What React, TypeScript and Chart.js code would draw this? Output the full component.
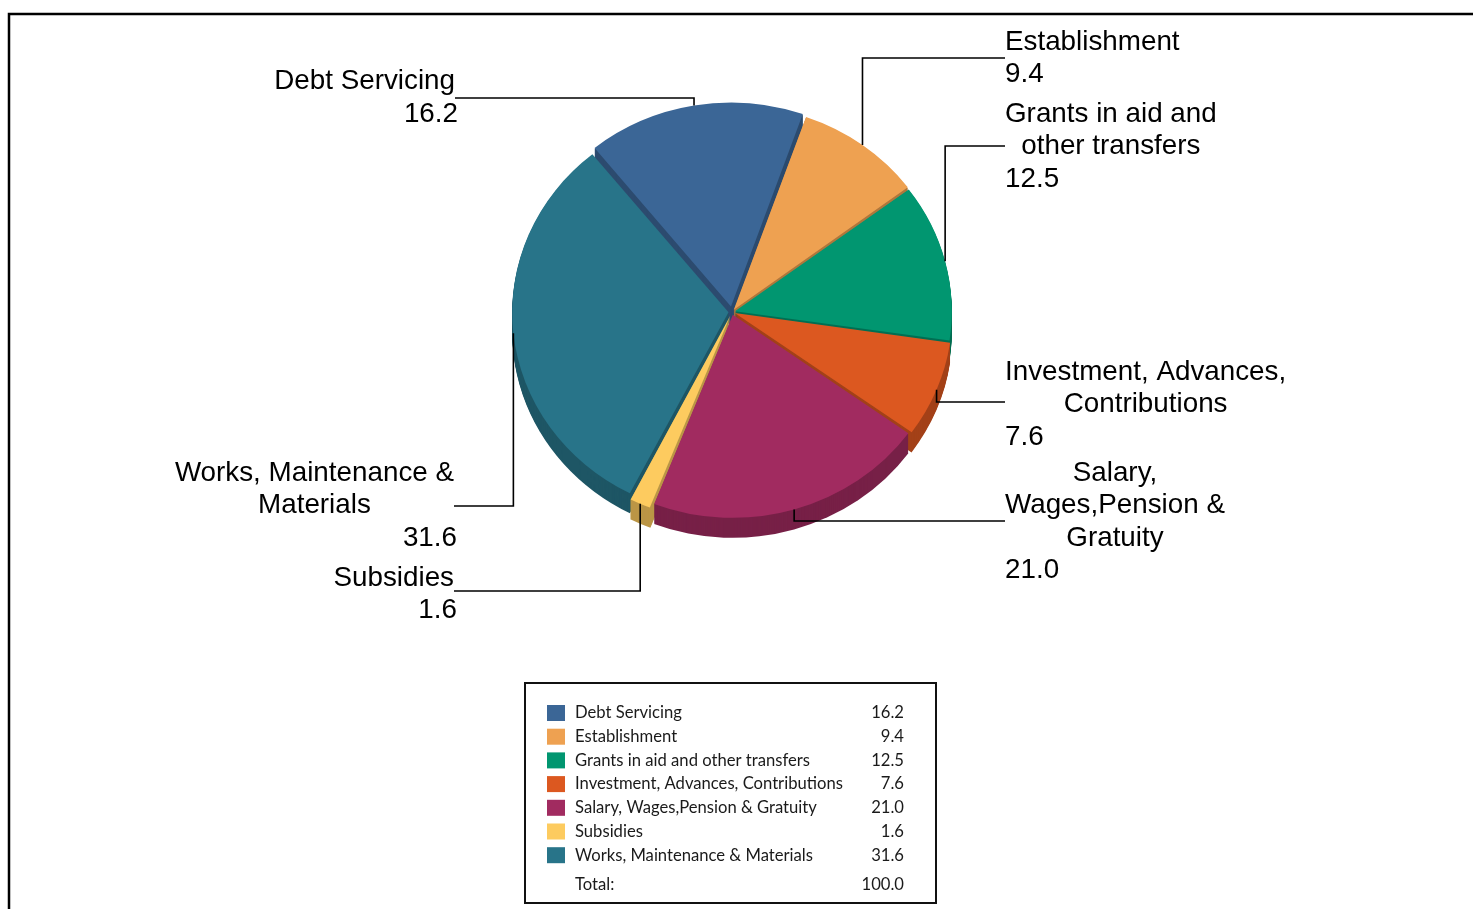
import React, { useEffect, useRef } from "react";
import { Chart, registerables } from "chart.js";

Chart.register(...registerables);

// ---------- data ----------
const categories = [
  "Debt Servicing",
  "Establishment",
  "Grants in aid and other transfers",
  "Investment, Advances, Contributions",
  "Salary, Wages,Pension & Gratuity",
  "Subsidies",
  "Works, Maintenance & Materials",
];
const values = [16.2, 9.4, 12.5, 7.6, 21.0, 1.6, 31.6];
const totalValue = 100.0;
const labelLines = [
  ["Debt Servicing"],
  ["Establishment"],
  ["Grants in aid and", "other transfers"],
  ["Investment, Advances,", "Contributions"],
  ["Salary,", "Wages,Pension &", "Gratuity"],
  ["Subsidies"],
  ["Works, Maintenance &", "Materials"],
];

// ---------- style ----------
const colors = ["#3B6696", "#EEA151", "#019670", "#DC5820", "#A12B60", "#FDCB5F", "#287489"];
const offsets = [24, 12, 12, 12, 12, 16, 14];
const SY = 0.94;
const DEPTH = 20;
const LABEL_FONT = '27.8px "Liberation Sans", Arial, sans-serif';
const LINE_H = 32.6;

const labelLayout = [
  { side: "left", tx: 458, y0: 81.5, elbowY: 98 },
  { side: "right", tx: 1005, y0: 42, elbowY: 58 },
  { side: "right", tx: 1005, y0: 114, elbowY: 146 },
  { side: "right", tx: 1005, y0: 372, elbowY: 402 },
  { side: "right", tx: 1005, y0: 473, elbowY: 521 },
  { side: "left", tx: 457, y0: 578, elbowY: 591 },
  { side: "left", tx: 457, y0: 473, elbowY: 506 },
];

const legendBox = { x: 525, y: 683, w: 411, h: 220 };

function shade(hex: string, f: number) {
  const n = parseInt(hex.slice(1), 16);
  const r = Math.round(((n >> 16) & 255) * f);
  const g = Math.round(((n >> 8) & 255) * f);
  const b = Math.round((n & 255) * f);
  return `rgb(${r},${g},${b})`;
}
const sideColors = colors.map((c) => shade(c, 0.74));

function arcGeom(arc: any) {
  const p = arc.getProps(["x", "y", "startAngle", "endAngle", "outerRadius", "circumference"], true);
  const off = (arc.options.offset || 0) / 4;
  const mid = (p.startAngle + p.endAngle) / 2;
  const fix = 1 - Math.sin(Math.min(Math.PI, p.circumference || 0));
  return {
    cx: p.x,
    cy: p.y,
    x: p.x + Math.cos(mid) * off,
    y: p.y + Math.sin(mid) * off,
    r: p.outerRadius + off * fix,
    start: p.startAngle,
    end: p.endAngle,
    mid,
  };
}

const pie3d = {
  id: "pie3d",
  beforeDatasetsDraw(chart: any) {
    const meta = chart.getDatasetMeta(0);
    const ctx = chart.ctx;
    const g0 = arcGeom(meta.data[0]);
    ctx.save();
    ctx.translate(g0.cx, g0.cy);
    ctx.scale(1, SY);
    ctx.translate(-g0.cx, -g0.cy);
    for (let d = DEPTH; d >= 1; d--) {
      meta.data.forEach((arc: any, i: number) => {
        const g = arcGeom(arc);
        const yy = g.y + d / SY;
        ctx.beginPath();
        ctx.moveTo(g.x, yy);
        ctx.arc(g.x, yy, g.r, g.start, g.end);
        ctx.closePath();
        ctx.fillStyle = sideColors[i];
        ctx.fill();
      });
    }
  },
  afterDatasetsDraw(chart: any) {
    chart.ctx.restore();
  },
  afterDraw(chart: any) {
    const ctx = chart.ctx;
    const meta = chart.getDatasetMeta(0);

    // frame
    ctx.save();
    ctx.strokeStyle = "#000";
    ctx.lineWidth = 2.5;
    ctx.beginPath();
    ctx.moveTo(9, chart.height);
    ctx.lineTo(9, 14);
    ctx.lineTo(chart.width, 14);
    ctx.stroke();
    ctx.restore();

    // data labels with leader lines
    ctx.save();
    ctx.font = LABEL_FONT;
    ctx.fillStyle = "#000";
    ctx.textBaseline = "middle";
    meta.data.forEach((arc: any, i: number) => {
      const g = arcGeom(arc);
      const px = g.x + Math.cos(g.mid) * g.r;
      const py = g.cy + (g.y + Math.sin(g.mid) * g.r - g.cy) * SY;
      const L = labelLayout[i];
      const endX = L.side === "left" ? L.tx - 3 : L.tx;
      ctx.strokeStyle = "#000";
      ctx.lineWidth = 1.6;
      ctx.beginPath();
      ctx.moveTo(px, py);
      ctx.lineTo(px, L.elbowY);
      ctx.lineTo(endX, L.elbowY);
      ctx.stroke();

      const lines = labelLines[i];
      const w = Math.max(...lines.map((s) => ctx.measureText(s).width));
      const center = L.side === "left" ? L.tx - 3 - w / 2 : L.tx + w / 2;
      ctx.textAlign = "center";
      lines.forEach((s, k) => ctx.fillText(s, center, L.y0 + k * LINE_H));
      ctx.textAlign = L.side === "left" ? "right" : "left";
      ctx.fillText(values[i].toFixed(1), L.tx, L.y0 + lines.length * LINE_H);
    });
    ctx.restore();

    // legend table
    ctx.save();
    ctx.fillStyle = "#fff";
    ctx.fillRect(legendBox.x, legendBox.y, legendBox.w, legendBox.h);
    ctx.strokeStyle = "#111";
    ctx.lineWidth = 2;
    ctx.strokeRect(legendBox.x, legendBox.y, legendBox.w, legendBox.h);
    ctx.font = "100px Lato, sans-serif";
    const ref = ctx.measureText("Debt Servicing").width;
    const fs = (100 * 107) / ref;
    ctx.font = `${fs}px Lato, sans-serif`;
    ctx.textBaseline = "middle";
    const rowStep = 23.7;
    categories.forEach((c, i) => {
      const y = legendBox.y + 30 + i * rowStep;
      ctx.fillStyle = colors[i];
      ctx.fillRect(legendBox.x + 22, y - 8, 18, 16);
      ctx.fillStyle = "#1a1a1a";
      ctx.textAlign = "left";
      ctx.fillText(c, legendBox.x + 50, y);
      ctx.textAlign = "right";
      ctx.fillText(values[i].toFixed(1), legendBox.x + 379, y);
    });
    const ty = legendBox.y + 202;
    ctx.textAlign = "left";
    ctx.fillText("Total:", legendBox.x + 50, ty);
    ctx.textAlign = "right";
    ctx.fillText(totalValue.toFixed(1), legendBox.x + 379, ty);
    ctx.restore();
  },
};

export default function App() {
  const ref = useRef<HTMLCanvasElement | null>(null);
  useEffect(() => {
    if (!ref.current) return;
    const chart = new Chart(ref.current, {
      type: "pie",
      data: {
        labels: categories,
        datasets: [
          {
            data: values,
            backgroundColor: colors,
            borderWidth: 0,
            offset: offsets,
            hoverOffset: 0,
            clip: false,
          } as any,
        ],
      },
      options: {
        responsive: false,
        animation: false,
        devicePixelRatio: 1,
        events: [],
        rotation: -39,
        layout: { padding: { left: 504, right: 513, top: 84, bottom: 369 } },
        plugins: { legend: { display: false }, tooltip: { enabled: false } },
      } as any,
      plugins: [pie3d],
    });
    return () => chart.destroy();
  }, []);
  return (
    <div style={{ position: "fixed", left: 0, top: 0, width: 1473, height: 909, background: "#fff" }}>
      <canvas ref={ref} width={1473} height={909} style={{ display: "block", width: 1473, height: 909 }} />
    </div>
  );
}
